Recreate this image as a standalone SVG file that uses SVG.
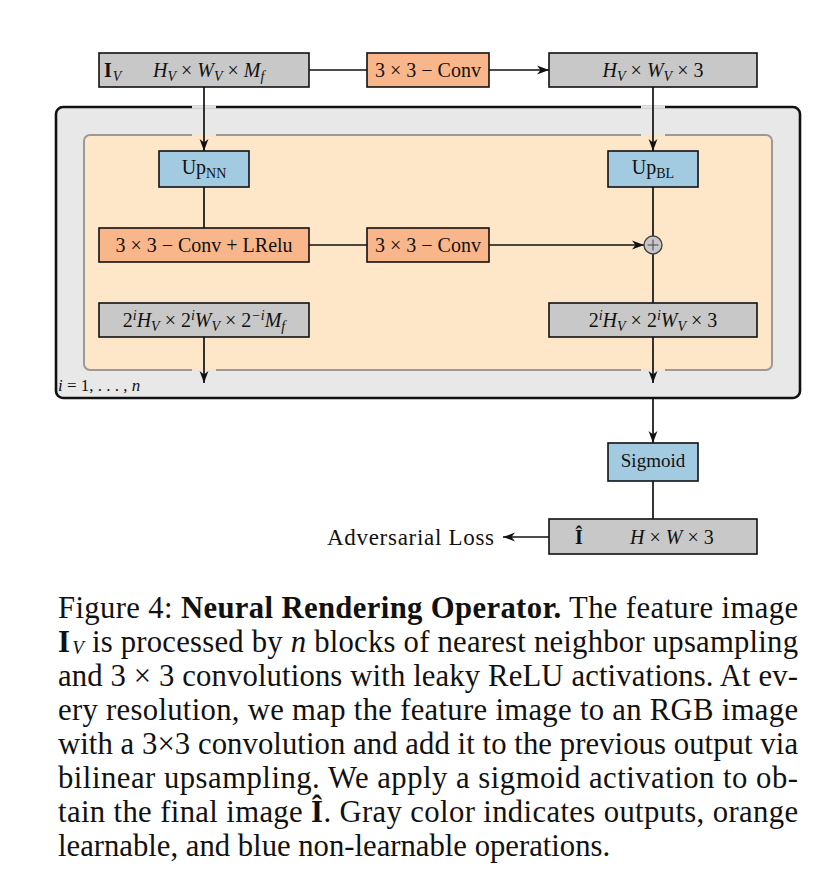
<svg xmlns="http://www.w3.org/2000/svg" width="826" height="894" viewBox="0 0 826 894">
<defs>
<style>
text{font-family:"Liberation Serif","Times New Roman",serif;fill:#111}
.box{stroke:#111;stroke-width:1.6}
.gray{fill:#c8c8c8}
.orange{fill:#f9b68b}
.blue{fill:#a2cbe2}
.t{font-size:20px}
.it{font-style:italic}
.bf{font-weight:bold}
.sb{font-size:14px;font-style:italic}
.sbr{font-size:14px}
.sup{font-size:14px;font-style:italic}
.cap{font-size:30.7px}
.conn{stroke:#111;stroke-width:1.7;fill:none}
</style>
<marker id="arr" viewBox="0 0 12 10" refX="12" refY="5" markerWidth="12" markerHeight="10" orient="auto" markerUnits="userSpaceOnUse">
<path d="M0,0.6 L12,5 L0,9.4 L3.5,5 Z" fill="#111"/>
</marker>
</defs>
<rect width="826" height="894" fill="#fff"/>

<g id="outer-block">
<rect x="56" y="107" width="744" height="291" rx="7" fill="#e8e8e8" stroke="#111" stroke-width="2.6"/>
</g>
<g id="inner-block">
<rect x="84" y="135" width="688" height="235" rx="6" fill="#fee6c9" stroke="#9a9a9a" stroke-width="2"/>
</g>
<g id="border-gaps">
<line x1="192" y1="107" x2="216" y2="107" stroke="#e2e2e2" stroke-width="3.2"/>
<line x1="641" y1="107" x2="665" y2="107" stroke="#e2e2e2" stroke-width="3.2"/>
<line x1="192" y1="135" x2="216" y2="135" stroke="#f2e6d6" stroke-width="2.6"/>
<line x1="641" y1="135" x2="665" y2="135" stroke="#f2e6d6" stroke-width="2.6"/>
<line x1="192" y1="370" x2="216" y2="370" stroke="#f2e6d6" stroke-width="2.6"/>
<line x1="641" y1="370" x2="665" y2="370" stroke="#f2e6d6" stroke-width="2.6"/>
</g>

<g id="connectors">
<line class="conn" x1="309" y1="70" x2="367" y2="70"/>
<line class="conn" x1="489" y1="70" x2="549" y2="70" marker-end="url(#arr)"/>
<line class="conn" x1="204" y1="87" x2="204" y2="151" marker-end="url(#arr)"/>
<line class="conn" x1="653" y1="87" x2="653" y2="151" marker-end="url(#arr)"/>
<line class="conn" x1="204" y1="187" x2="204" y2="228"/>
<line class="conn" x1="309" y1="245" x2="367" y2="245"/>
<line class="conn" x1="489" y1="245" x2="644" y2="245" marker-end="url(#arr)"/>
<line class="conn" x1="653" y1="187" x2="653" y2="236"/>
<line class="conn" x1="653" y1="254" x2="653" y2="303"/>
<line class="conn" x1="204" y1="337" x2="204" y2="383" marker-end="url(#arr)"/>
<line class="conn" x1="653" y1="337" x2="653" y2="383" marker-end="url(#arr)"/>
<line class="conn" x1="653" y1="398" x2="653" y2="443" marker-end="url(#arr)"/>
<line class="conn" x1="653" y1="481" x2="653" y2="519"/>
<line class="conn" x1="549" y1="537" x2="503" y2="537" marker-end="url(#arr)"/>
</g>

<g id="input-feature">
<rect class="box gray" x="99" y="53" width="210" height="34"/>
<text class="t" x="104" y="77"><tspan class="bf">I</tspan><tspan class="sb" dx="1" dy="4">V</tspan></text>
<text class="t" x="153" y="77"><tspan class="it">H</tspan><tspan class="sb" dy="4">V</tspan><tspan dy="-4"> × </tspan><tspan class="it">W</tspan><tspan class="sb" dy="4">V</tspan><tspan dy="-4"> × </tspan><tspan class="it">M</tspan><tspan class="sb" dy="4">f</tspan></text>
</g>
<g id="conv-top">
<rect class="box orange" x="367" y="53" width="122" height="34"/>
<text class="t" x="428" y="77" text-anchor="middle">3 × 3 − Conv</text>
</g>
<g id="rgb-top">
<rect class="box gray" x="549" y="53" width="208" height="34"/>
<text class="t" x="653" y="77" text-anchor="middle"><tspan class="it">H</tspan><tspan class="sb" dy="4">V</tspan><tspan dy="-4"> × </tspan><tspan class="it">W</tspan><tspan class="sb" dy="4">V</tspan><tspan dy="-4"> × 3</tspan></text>
</g>

<g id="up-nn">
<rect class="box blue" x="159" y="151" width="90" height="36"/>
<text class="t" x="204" y="174" text-anchor="middle">Up<tspan class="sbr" dy="4">NN</tspan></text>
</g>
<g id="up-bl">
<rect class="box blue" x="608" y="151" width="90" height="36"/>
<text class="t" x="653" y="174" text-anchor="middle">Up<tspan class="sbr" dy="4">BL</tspan></text>
</g>
<g id="conv-lrelu">
<rect class="box orange" x="99" y="228" width="210" height="34"/>
<text class="t" x="204" y="252" text-anchor="middle">3 × 3 − Conv + LRelu</text>
</g>
<g id="conv-mid">
<rect class="box orange" x="367" y="228" width="122" height="34"/>
<text class="t" x="428" y="252" text-anchor="middle">3 × 3 − Conv</text>
</g>
<g id="add">
<circle cx="653" cy="245" r="9" fill="#c8c8c8" stroke="#444" stroke-width="1.4"/>
<path d="M653,239.5 V250.5 M647.5,245 H658.5" stroke="#444" stroke-width="1"/>
</g>
<g id="feat-out">
<rect class="box gray" x="99" y="303" width="210" height="34"/>
<text class="t" x="204" y="327" text-anchor="middle">2<tspan class="sup" dy="-7">i</tspan><tspan class="it" dy="7">H</tspan><tspan class="sb" dy="4">V</tspan><tspan dy="-4"> × 2</tspan><tspan class="sup" dy="-7">i</tspan><tspan class="it" dy="7">W</tspan><tspan class="sb" dy="4">V</tspan><tspan dy="-4"> × 2</tspan><tspan class="sup" dy="-7">−i</tspan><tspan class="it" dy="7">M</tspan><tspan class="sb" dy="4">f</tspan></text>
</g>
<g id="rgb-out">
<rect class="box gray" x="549" y="303" width="208" height="34"/>
<text class="t" x="653" y="327" text-anchor="middle">2<tspan class="sup" dy="-7">i</tspan><tspan class="it" dy="7">H</tspan><tspan class="sb" dy="4">V</tspan><tspan dy="-4"> × 2</tspan><tspan class="sup" dy="-7">i</tspan><tspan class="it" dy="7">W</tspan><tspan class="sb" dy="4">V</tspan><tspan dy="-4"> × 3</tspan></text>
</g>
<g id="loop-label">
<text x="58" y="391" font-size="17px"><tspan class="it">i</tspan> = 1, . . . , <tspan class="it">n</tspan></text>
</g>

<g id="sigmoid">
<rect class="box blue" x="608" y="443" width="90" height="38"/>
<text x="653" y="467" font-size="19px" text-anchor="middle">Sigmoid</text>
</g>
<g id="final-image">
<rect class="box gray" x="549" y="519" width="208" height="35"/>
<text class="t" x="575" y="544"><tspan class="bf">Î</tspan></text>
<text class="t" x="630" y="544"><tspan class="it">H</tspan> × <tspan class="it">W</tspan> × 3</text>
</g>
<g id="adversarial-loss">
<text x="327" y="545" font-size="23px" textLength="167" lengthAdjust="spacing">Adversarial Loss</text>
</g>

<g id="caption">
<text class="cap" x="58" y="618" textLength="740" lengthAdjust="spacing">Figure 4: <tspan class="bf">Neural Rendering Operator.</tspan> The feature image</text>
<text class="cap" x="58" y="652" textLength="740" lengthAdjust="spacing"><tspan class="bf">I</tspan><tspan class="it" font-size="19px" dx="2" dy="2">V</tspan><tspan dy="-2"> is processed by </tspan><tspan class="it">n</tspan> blocks of nearest neighbor upsampling</text>
<text class="cap" x="58" y="686" textLength="740" lengthAdjust="spacing">and 3 × 3 convolutions with leaky ReLU activations. At ev-</text>
<text class="cap" x="58" y="720" textLength="740" lengthAdjust="spacing">ery resolution, we map the feature image to an RGB image</text>
<text class="cap" x="58" y="754" textLength="740" lengthAdjust="spacing">with a 3×3 convolution and add it to the previous output via</text>
<text class="cap" x="58" y="788" textLength="740" lengthAdjust="spacing">bilinear upsampling. We apply a sigmoid activation to ob-</text>
<text class="cap" x="58" y="822" textLength="740" lengthAdjust="spacing">tain the final image <tspan class="bf">Î</tspan>. Gray color indicates outputs, orange</text>
<text class="cap" x="58" y="856">learnable, and blue non-learnable operations.</text>
</g>
</svg>
